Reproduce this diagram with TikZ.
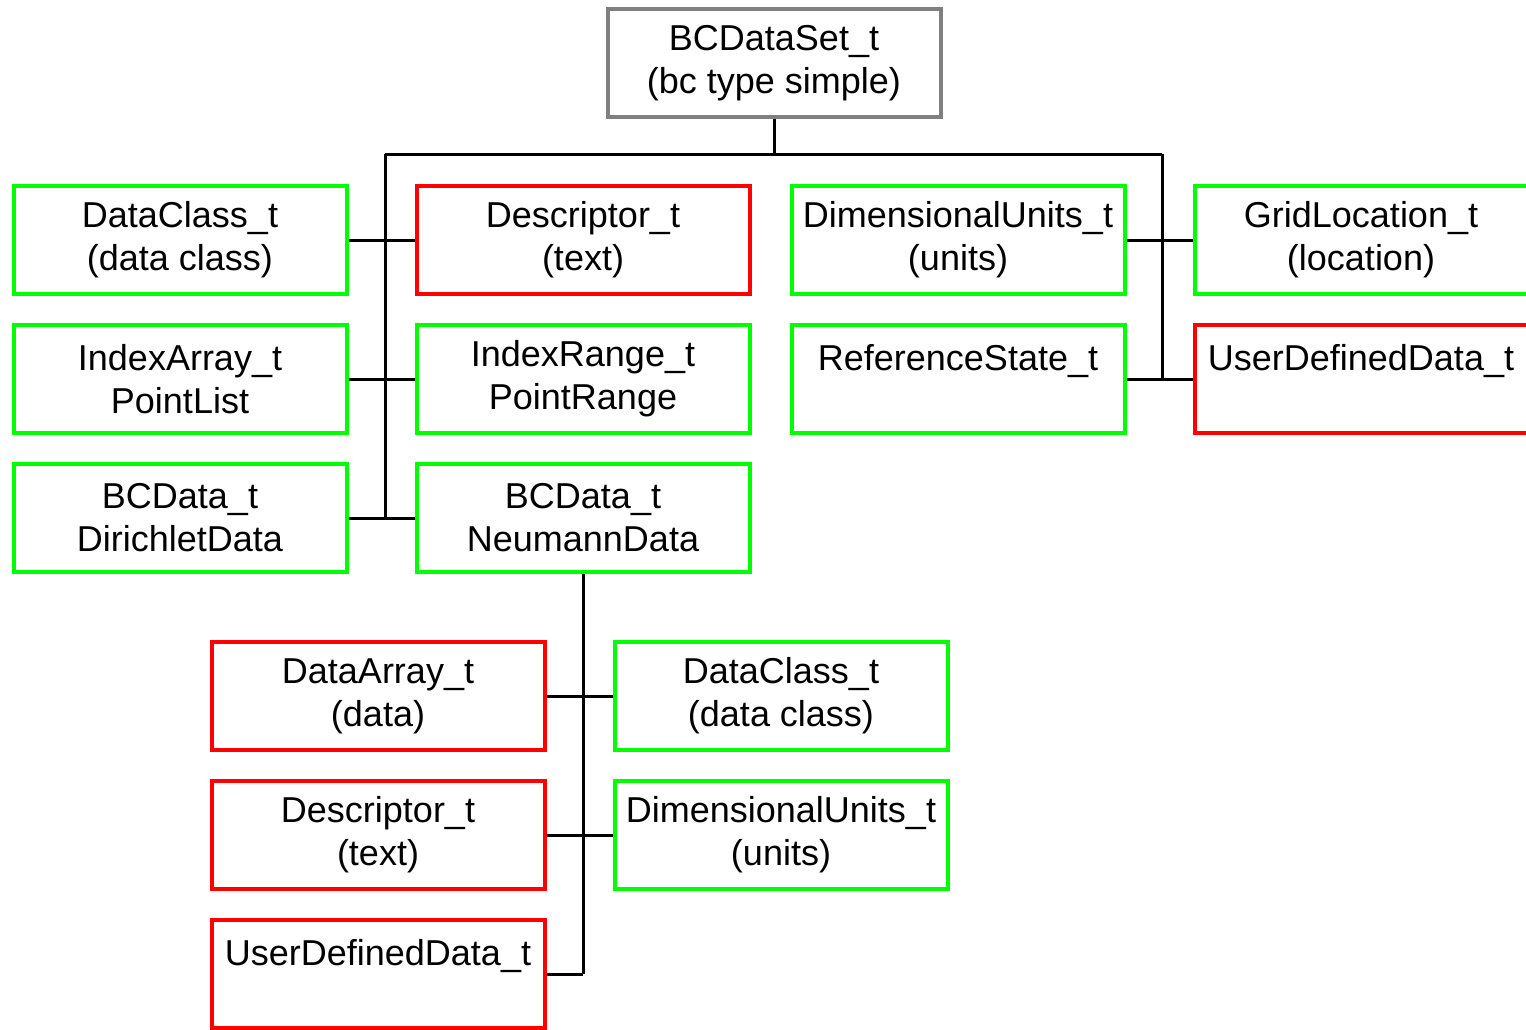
\documentclass[tikz,border=0pt]{standalone}
\usepackage{fontspec}
\setmainfont{Liberation Sans}
\usetikzlibrary{calc}

\definecolor{boxgreen}{RGB}{0,255,0}
\definecolor{boxred}{RGB}{255,0,0}
\definecolor{boxgray}{RGB}{128,128,128}

\begin{document}
\begin{tikzpicture}[x=1pt, y=-1pt, line width=3pt,
        main node/.style={rectangle, draw, line width=4pt, minimum width=333pt,
            minimum height=108pt, inner sep=0pt, align=center,
            font=\fontsize{36}{43}\selectfont},
        green node/.style={main node, draw=boxgreen},
        red node/.style={main node, draw=boxred},
        gray node/.style={main node, draw=boxgray}]

    \useasboundingbox (0,0) rectangle (1526,1029);
    \clip (0,0) rectangle (1526,1029);

    % Wierzcholki
    \node[gray node] (set) at (774,63) {BCDataSet\_t\\(bc type simple)};

    \node[green node] (dcl) at (180,240) {DataClass\_t\\(data class)};
    \node[red node] (desc) at (583,240) {Descriptor\_t\\(text)};
    \node[green node] (dunits) at (958,240) {DimensionalUnits\_t\\(units)};
    \node[green node] (grid) at (1361,240) {GridLocation\_t\\(location)};

    \node[green node] (iarr) at (180,379) {IndexArray\_t\\PointList};
    \node[green node] (irng) at (583,379) {IndexRange\_t\\PointRange};
    \node[green node] (ref) at (958,379) {ReferenceState\_t\\\mbox{}};
    \node[red node] (udd) at (1361,379) {UserDefinedData\_t\\\mbox{}};

    \node[green node] (bcd) at (180,518) {BCData\_t\\DirichletData};
    \node[green node] (bcn) at (583,518) {BCData\_t\\NeumannData};

    \node[red node] (sarr) at (378,696) {DataArray\_t\\(data)};
    \node[green node] (scl) at (781,696) {DataClass\_t\\(data class)};
    \node[red node] (sdesc) at (378,835) {Descriptor\_t\\(text)};
    \node[green node] (sunits) at (781,835) {DimensionalUnits\_t\\(units)};
    \node[red node] (sudd) at (378,974) {UserDefinedData\_t\\\mbox{}};

    \coordinate (busL) at (385,154);
    \coordinate (busR) at (1162,154);

    % Krawedzie
    \draw (set.south) -- (set.south |- busL);
    \draw (busL) -- (busR);
    \draw (busL) -- (busL |- bcd.east);
    \draw (busR) -- (busR |- ref.east);
    \draw (dcl.east) -- (desc.west);
    \draw (iarr.east) -- (irng.west);
    \draw (bcd.east) -- (bcn.west);
    \draw (dunits.east) -- (grid.west);
    \draw (ref.east) -- (udd.west);

    \draw (bcn.south) -- (bcn.south |- sudd.east);
    \draw (sarr.east) -- (scl.west);
    \draw (sdesc.east) -- (sunits.west);
    \draw (sudd.east) -- (bcn.south |- sudd.east);
\end{tikzpicture}
\end{document}
